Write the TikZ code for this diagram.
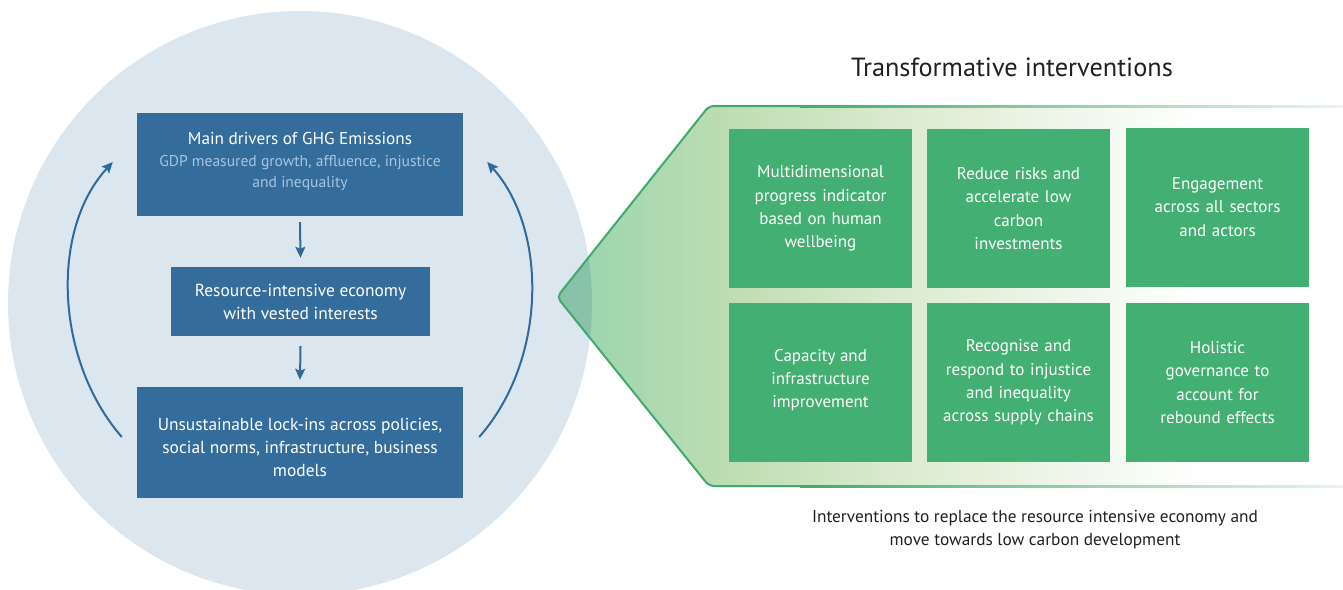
\documentclass[tikz,border=0pt]{standalone}
\usepackage{fontspec}
\setmainfont{PT Sans}
\usetikzlibrary{arrows.meta}
\definecolor{circ}{HTML}{DCE6EF}
\definecolor{boxblue}{HTML}{346D9C}
\definecolor{subblue}{HTML}{A8C4DE}
\definecolor{arrblue}{HTML}{2F6A9A}
\definecolor{boxgreen}{HTML}{43AF72}
\definecolor{gline}{HTML}{41A96D}
\definecolor{gA}{HTML}{96D4AC}
\definecolor{gB}{HTML}{BEDDB3}
\definecolor{gC}{HTML}{DCEBD0}
\definecolor{overlap}{HTML}{87C2A9}
\definecolor{txt}{HTML}{231F20}
\pgfdeclarehorizontalshading{gfade}{100bp}{color(0bp)=(gA); color(25bp)=(gA); color(36bp)=(gB); color(47bp)=(gC); color(66bp)=(white); color(100bp)=(white)}
\tikzset{
  bluebox/.style={fill=boxblue, text=white, align=center, inner sep=0pt, font=\fontsize{17.4}{23}\selectfont},
  bluetext/.style={text=white, align=center, inner sep=0pt, font=\fontsize{17.4}{23}\selectfont},
  greenbox/.style={fill=boxgreen, text=white, align=center, inner sep=0pt, minimum width=183pt, minimum height=159pt, text width=175pt, font=\fontsize{17}{23.3}\selectfont},
  barrow/.style={draw=arrblue, line width=2pt, -{Stealth[length=11pt,width=10pt,inset=2pt]}},
}
\begin{document}
\begin{tikzpicture}[x=1pt,y=-1pt]
\useasboundingbox (0,0) rectangle (1343,589);
\begin{scope}
  \clip (0,0) rectangle (1343,589);
  \fill[circ] (300,303) circle[radius=292];
\end{scope}
% green arrow shape
\shade[shading=gfade, rounded corners=5pt] (1343,106) -- (709,106) -- (557,297) -- (709,486) -- (1343,486) -- cycle;
\begin{scope}
  \clip (300,303) circle[radius=292];
  \fill[overlap, rounded corners=5pt] (709,106) -- (557,297) -- (709,486) -- cycle;
\end{scope}
\draw[gline, line width=2pt, rounded corners=5pt] (800,106) -- (709,106) -- (557,297) -- (709,486) -- (800,486);
\shade[left color=gline, middle color=gline!75!white, right color=gline!12!white] (800,105) rectangle (1343,107);
\shade[left color=gline, middle color=gline!75!white, right color=gline!12!white] (800,485) rectangle (1343,487);

% blue boxes
\node[bluebox, minimum width=326pt, minimum height=103pt] (drivers) at (300,164.5) {};
\node[bluetext, font=\fontsize{15.6}{21.2}\selectfont] (driverstext) at (300,161.5)
  {{\fontsize{17.2}{21.2}\selectfont Main drivers of GHG Emissions}\\
   {\color{subblue}GDP measured growth, affluence, injustice}\\
   {\color{subblue}and inequality}};
\node[bluebox, minimum width=259pt, minimum height=69pt] (economy) at (300.5,301.5)
  {Resource-intensive economy\\with vested interests};
\node[bluebox, minimum width=326pt, minimum height=111pt] (lockins) at (300,442.5) {};
\node[bluetext] (lockinstext) at (300,447)
  {Unsustainable lock-ins across policies,\\social norms, infrastructure, business\\models};

\draw[barrow] ([yshift=-6pt]drivers.south) -- ([yshift=9pt]economy.north);
\draw[barrow] ([yshift=-10pt]economy.south) -- ([yshift=7pt]lockins.north);

\coordinate (ls) at ([xshift=-15pt,yshift=5.5pt]lockins.west);
\coordinate (le) at ([xshift=-24pt,yshift=2.5pt]drivers.west);
\coordinate (rs) at ([xshift=16pt,yshift=5.5pt]lockins.east);
\coordinate (re) at ([xshift=24pt,yshift=2.5pt]drivers.east);
\draw[barrow] (ls) .. controls (55,360) and (50,230) .. (le);
\draw[barrow] (rs) .. controls (547,360) and (548,230) .. (re);

% green boxes
\node[greenbox] (g1) at (820.5,208.5) {Multidimensional\\progress indicator\\based on human\\wellbeing};
\node[greenbox] (g2) at (1018.5,208.5) {Reduce risks and\\accelerate low\\carbon\\investments};
\node[greenbox] (g3) at (1217.5,207) {Engagement\\across all sectors\\and actors};
\node[greenbox, minimum height=159pt] (g4) at (820.5,382.5) {};
\node[text=white, align=center, inner sep=0pt, font=\fontsize{17}{23.3}\selectfont] (g4text) at (820.5,380) {Capacity and\\infrastructure\\improvement};
\node[greenbox] (g5) at (1018.5,382.5) {Recognise and\\respond to injustice\\and inequality\\across supply chains};
\node[greenbox] (g6) at (1217.5,382.5) {Holistic\\governance to\\account for\\rebound effects};

\node[text=txt, font=\fontsize{26.3}{31}\selectfont] (title) at (1012,67) {Transformative interventions};
\node[text=txt, align=center, font=\fontsize{17.3}{23}\selectfont] (caption) at (1035,530)
  {Interventions to replace the resource intensive economy and\\move towards low carbon development};
\end{tikzpicture}
\end{document}
